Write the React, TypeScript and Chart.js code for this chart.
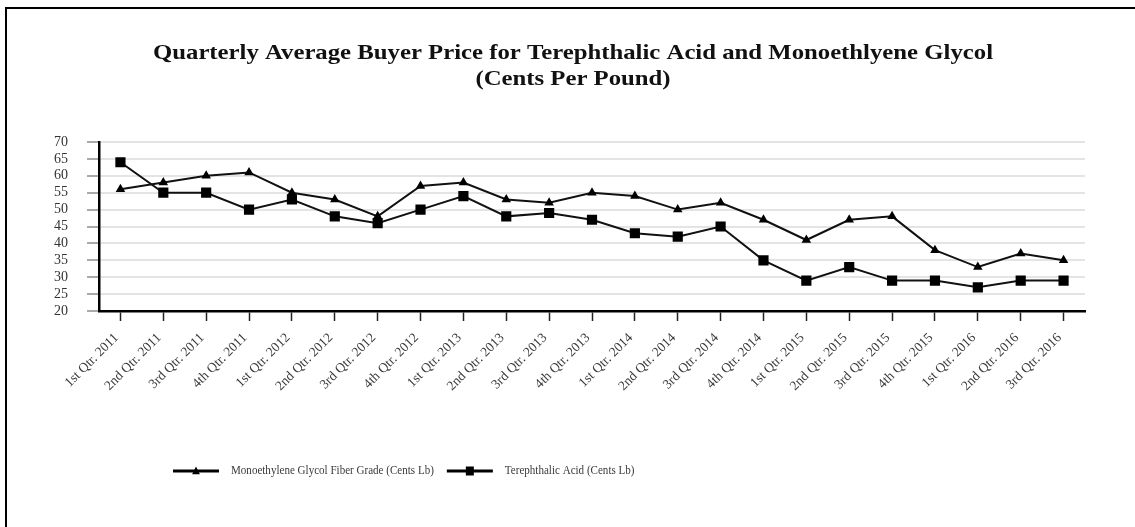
import React, { useEffect, useRef } from "react";
import { Chart, registerables } from "chart.js";

Chart.register(...registerables);

const categories = [
  "1st Qtr. 2011", "2nd Qtr. 2011", "3rd Qtr. 2011", "4th Qtr. 2011",
  "1st Qtr. 2012", "2nd Qtr. 2012", "3rd Qtr. 2012", "4th Qtr. 2012",
  "1st Qtr. 2013", "2nd Qtr. 2013", "3rd Qtr. 2013", "4th Qtr. 2013",
  "1st Qtr. 2014", "2nd Qtr. 2014", "3rd Qtr. 2014", "4th Qtr. 2014",
  "1st Qtr. 2015", "2nd Qtr. 2015", "3rd Qtr. 2015", "4th Qtr. 2015",
  "1st Qtr. 2016", "2nd Qtr. 2016", "3rd Qtr. 2016",
];

const megValues = [56, 58, 60, 61, 55, 53, 48, 57, 58, 53, 52, 55, 54, 50, 52, 47, 41, 47, 48, 38, 33, 37, 35];
const tpaValues = [64, 55, 55, 50, 53, 48, 46, 50, 54, 48, 49, 47, 43, 42, 45, 35, 29, 33, 29, 29, 27, 29, 29];

const seriesNames = ["Monoethylene Glycol Fiber Grade (Cents Lb)", "Terephthalic Acid (Cents Lb)"];
const titleLines = [
  "Quarterly Average Buyer Price for Terephthalic Acid and Monoethlyene Glycol",
  "(Cents Per Pound)",
];
const yMin = 20;
const yMax = 70;
const yStep = 5;

const SERIF = "'Liberation Serif', 'Times New Roman', serif";

function drawScaledText(ctx: any, text: string, x: number, y: number, sx: number, align: string) {
  ctx.save();
  ctx.translate(x, y);
  ctx.scale(sx, 1);
  ctx.textAlign = align;
  ctx.fillText(text, 0, 0);
  ctx.restore();
}

const titleDrawer = {
  id: "titleDrawer",
  afterDraw(chart: any) {
    const ctx = chart.ctx;
    ctx.save();
    ctx.font = `bold 21px ${SERIF}`;
    ctx.fillStyle = "#111";
    ctx.textBaseline = "middle";
    const cx = 573;
    const w0 = ctx.measureText(titleLines[0]).width;
    const sx = 840 / w0;
    titleLines.forEach((line, i) => {
      drawScaledText(ctx, line, cx, 54 + i * 26, sx, "center");
    });
    ctx.restore();
  },
};

const lineLegend = {
  id: "lineLegend",
  afterDraw(chart: any) {
    const ctx = chart.ctx;
    const y = 471;
    let x = 173;
    const lineLen = 46;
    const sx = 0.85;
    ctx.save();
    ctx.font = `13px ${SERIF}`;
    ctx.textBaseline = "middle";
    chart.data.datasets.forEach((ds: any) => {
      ctx.strokeStyle = "#000";
      ctx.lineWidth = 3;
      ctx.beginPath();
      ctx.moveTo(x, y);
      ctx.lineTo(x + lineLen, y);
      ctx.stroke();
      ctx.fillStyle = "#000";
      const cx = x + lineLen / 2;
      ctx.beginPath();
      if (ds.pointStyle === "triangle") {
        const r = 4.5;
        ctx.moveTo(cx, y - r);
        ctx.lineTo(cx + r * 0.866, y + r * 0.5 + 1);
        ctx.lineTo(cx - r * 0.866, y + r * 0.5 + 1);
        ctx.closePath();
      } else {
        ctx.rect(cx - 4, y - 4.5, 8, 9);
      }
      ctx.fill();
      x += lineLen + 12;
      ctx.fillStyle = "#3a3a3a";
      drawScaledText(ctx, ds.label, x, y, sx, "left");
      x += ctx.measureText(ds.label).width * sx + 13;
    });
    ctx.restore();
  },
};

export default function App() {
  const canvasRef = useRef<HTMLCanvasElement | null>(null);

  useEffect(() => {
    if (!canvasRef.current) return;
    const chart = new Chart(canvasRef.current, {
      type: "line",
      data: {
        labels: categories,
        datasets: [
          {
            label: seriesNames[0],
            data: megValues,
            borderColor: "#111",
            backgroundColor: "#000",
            borderWidth: 2,
            pointStyle: "triangle",
            pointRadius: 5.5,
            pointBorderWidth: 0,
            tension: 0,
          },
          {
            label: seriesNames[1],
            data: tpaValues,
            borderColor: "#111",
            backgroundColor: "#000",
            borderWidth: 2,
            pointStyle: "rect",
            pointRadius: 7.2,
            pointBorderWidth: 0,
            tension: 0,
          },
        ],
      },
      options: {
        animation: false,
        responsive: true,
        maintainAspectRatio: false,
        layout: { padding: { left: 0, right: 50, top: 142, bottom: 116 } },
        plugins: {
          legend: { display: false },
          tooltip: { enabled: false },
          title: { display: false },
        },
        scales: {
          x: {
            offset: true,
            afterFit: (scale: any) => {
              scale.height = 100;
            },
            grid: {
              offset: false,
              drawOnChartArea: false,
              drawTicks: true,
              tickLength: 10,
              tickColor: "#222",
              tickWidth: 1.5,
            },
            border: { display: true, color: "#000", width: 2.5 },
            ticks: {
              autoSkip: false,
              minRotation: 45,
              maxRotation: 45,
              padding: 9,
              labelOffset: -4,
              color: "#3a3a3a",
              font: { family: SERIF, size: 13.5 },
            },
          },
          y: {
            min: yMin,
            max: yMax,
            afterFit: (scale: any) => {
              scale.width = 99;
            },
            grid: {
              color: "#e4e4e4",
              lineWidth: 2,
              drawTicks: true,
              tickLength: 12,
              tickColor: "#555",
              tickWidth: 1,
            },
            border: { display: true, color: "#000", width: 2.5 },
            ticks: {
              stepSize: yStep,
              autoSkip: false,
              padding: 19,
              color: "#333",
              font: { family: SERIF, size: 14, lineHeight: 1 },
            },
          },
        },
      },
      plugins: [titleDrawer, lineLegend],
    });
    return () => chart.destroy();
  }, []);

  return (
    <div style={{ position: "absolute", left: 0, top: 0, width: 1135, height: 527, background: "#fff", overflow: "hidden" }}>
      <div
        style={{
          position: "absolute",
          left: 5,
          top: 7,
          right: 0,
          bottom: 0,
          borderLeft: "2px solid #000",
          borderTop: "2px solid #000",
        }}
      />
      <div style={{ position: "absolute", left: 0, top: 0, width: 1135, height: 527 }}>
        <canvas ref={canvasRef} />
      </div>
    </div>
  );
}
